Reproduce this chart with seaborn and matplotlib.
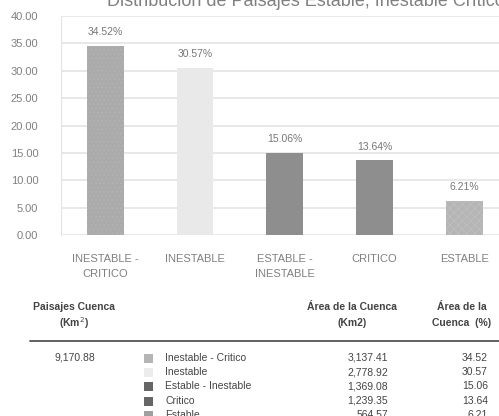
import matplotlib
matplotlib.use("Agg")
import matplotlib.pyplot as plt
import seaborn as sns
from matplotlib.patches import Rectangle
from matplotlib.lines import Line2D

# datos
categorias = ["INESTABLE -\nCRITICO", "INESTABLE", "ESTABLE -\nINESTABLE", "CRITICO", "ESTABLE"]
porcentajes = [34.52, 30.57, 15.06, 13.64, 6.21]
leyenda = ["Inestable - Critico", "Inestable", "Estable - Inestable", "Critico", "Estable"]
areas_km2 = [3137.41, 2778.92, 1369.08, 1239.35, 564.57]
area_total = 9170.88
y_ticks = [0, 5, 10, 15, 20, 25, 30, 35, 40]

colores = ["#ababab", "#e9e9e9", "#8e8e8e", "#8e8e8e", "#b5b5b5"]
tramas = ["....", "", "", "", "xxxx"]
tramas_borde = ["#b4b4b4", "#f2f2f2", "#8e8e8e", "#8e8e8e", "#c0c0c0"]

sns.set_style("white")
plt.rcParams["font.family"] = ["Liberation Sans", "DejaVu Sans"]
plt.rcParams["hatch.linewidth"] = 0.5

fig = plt.figure(figsize=(4.99, 4.16), dpi=100)
ax = fig.add_axes([0.1214, 0.4351, 0.8986, 0.5264])

sns.barplot(x=categorias, y=porcentajes, hue=categorias, palette=colores,
            width=0.41, legend=False, ax=ax, saturation=1)
for barra, trama, borde in zip(ax.patches, tramas, tramas_borde):
    barra.set_hatch(trama)
    barra.set_edgecolor(borde)
    barra.set_linewidth(0)

for i, v in enumerate(porcentajes):
    ax.text(i, v + 2.5, f"{v:.2f}%", ha="center", va="center", fontsize=7.5, color="#777777")

ax.set_xlim(-0.5, 4.5)
ax.set_ylim(0, 40)
ax.set_yticks(y_ticks)
ax.set_yticklabels([f"{t:.2f}" for t in y_ticks], fontsize=8, color="#808080")
ax.tick_params(axis="x", labelsize=8, labelcolor="#808080", length=0, pad=14)
ax.tick_params(axis="y", length=0, pad=16)
for lbl in ax.get_xticklabels():
    lbl.set_linespacing(1.6)
ax.grid(axis="y", color="#e4e4e4", linewidth=1.2)
ax.set_axisbelow(True)
for lado in ["top", "right", "bottom"]:
    ax.spines[lado].set_visible(False)
ax.spines["left"].set_color("#e4e4e4")
ax.set_xlabel("")
ax.set_ylabel("")

# titulo recortado en la parte superior
fig.text(0.215, 0.985, "Distribución de Paisajes Estable, Inestable Crítico y Crítico",
         ha="left", va="baseline", fontsize=13, color="#808080")

# tabla inferior
def fy(px):
    return 1 - px / 416

def fx(px):
    return px / 499

enc = dict(fontsize=7.5, fontweight="bold", color="#444444", va="center")
fig.text(fx(74), fy(307), "Paisajes Cuenca", ha="center", **enc)
fig.text(fx(74), fy(323), "(Km$^2$)", ha="center", **enc)
fig.text(fx(352), fy(307), "Área de la Cuenca", ha="center", **enc)
fig.text(fx(352), fy(323), "(Km2)", ha="center", **enc)
fig.text(fx(462), fy(307), "Área de la", ha="center", **enc)
fig.text(fx(462), fy(323), "Cuenca  (%)", ha="center", **enc)
fig.add_artist(Line2D([fx(30), 1.0], [fy(341), fy(341)], transform=fig.transFigure,
                      color="#555555", linewidth=1.3))

fila = dict(fontsize=7.5, color="#444444", va="center")
fig.text(fx(75), fy(358), f"{area_total:,.2f}", ha="center", **fila)
colores_leyenda = ["#b5b5b5", "#ececec", "#666666", "#666666", "#a0a0a0"]
for i, (nombre, area, pct) in enumerate(zip(leyenda, areas_km2, porcentajes)):
    y = 358 + i * 14.2
    fig.add_artist(Rectangle((fx(144), fy(y + 5)), fx(9), 9 / 416, transform=fig.transFigure,
                             facecolor=colores_leyenda[i], edgecolor="none",
                             hatch=tramas[i] if tramas[i] else None))
    fig.text(fx(165), fy(y), nombre, ha="left", **fila)
    fig.text(fx(388), fy(y), f"{area:,.2f}", ha="right", **fila)
    fig.text(fx(488), fy(y), f"{pct:.2f}", ha="right", **fila)

fig.savefig("out.png", dpi=100)
